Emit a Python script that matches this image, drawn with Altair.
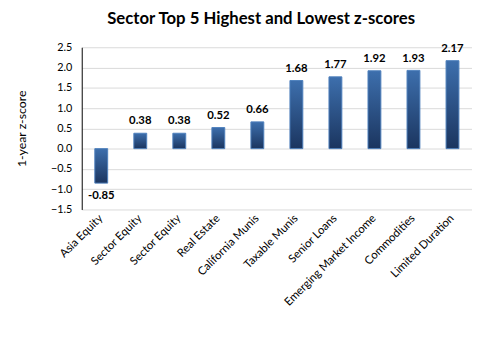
import altair as alt
import pandas as pd

categories = ["Asia Equity", "Sector Equity", "Sector Equity ", "Real Estate", "California Munis",
              "Taxable Munis", "Senior Loans", "Emerging Market Income", "Commodities", "Limited Duration"]
values = [-0.85, 0.38, 0.38, 0.52, 0.66, 1.68, 1.77, 1.92, 1.93, 2.17]
y_ticks = [-1.5, -1.0, -0.5, 0.0, 0.5, 1.0, 1.5, 2.0, 2.5]

df = pd.DataFrame({"cat": categories, "val": values})
df["lbl"] = df["val"].map(lambda v: f"{v:.2f}")

FONT = "Lato"

x = alt.X("cat:N", sort=categories, title=None,
          scale=alt.Scale(paddingInner=0.67, paddingOuter=0.335),
          axis=alt.Axis(labelAngle=-45, labelAlign="right", labelBaseline="middle",
                        labelPadding=7, ticks=False, domain=False, labelFont=FONT,
                        labelFontSize=11.5, labelColor="#000000", labelLimit=200,
                        labelOverlap=False, labelExpr="trim(datum.label)"))
y = alt.Y("val:Q", title="1-year z-score",
          scale=alt.Scale(domain=[-1.5, 2.5], nice=False),
          axis=alt.Axis(values=y_ticks, tickCount=9, format=".1f", ticks=False, domain=True,
                        domainColor="#000000", domainWidth=1, gridColor="#d9d9d9",
                        labelOverlap=False, labelFlush=False, labelBound=False,
                        labelFont=FONT, labelFontSize=11, labelColor="#000000",
                        labelPadding=10, titleFont=FONT, titleFontSize=12.5,
                        titleFontWeight="normal", titleColor="#000000", titlePadding=22))

grad = alt.Gradient(gradient="linear",
                    stops=[alt.GradientStop(color="#3d6fad", offset=0),
                           alt.GradientStop(color="#1b355f", offset=1)],
                    x1=0, x2=0, y1=0, y2=1)

bars = alt.Chart(df).mark_bar(fill=grad, stroke="#4f81bd", strokeWidth=1).encode(x=x, y=y)

pos = alt.Chart(df).transform_filter("datum.val >= 0").mark_text(
    baseline="bottom", dy=-7, font=FONT, fontSize=11.5, fontWeight="bold", color="#000000"
).encode(x=x, y=y, text="lbl:N")

neg = alt.Chart(df).transform_filter("datum.val < 0").mark_text(
    baseline="top", dy=7, font=FONT, fontSize=11.5, fontWeight="bold", color="#000000"
).encode(x=x, y=y, text="lbl:N")

chart = alt.layer(bars, pos, neg).properties(
    width=397, height=165,
    autosize=alt.AutoSizeParams(type="none"),
    padding={"left": 75, "top": 37, "right": 0, "bottom": 140},
    title=alt.TitleParams("Sector Top 5 Highest and Lowest z-scores", font=FONT,
                          fontSize=17, fontWeight="bold", color="#000000",
                          anchor="middle", dx=-16, offset=14),
).configure_view(stroke=None)

chart.save("out.html", embed_options={"renderer": "svg", "actions": False})
